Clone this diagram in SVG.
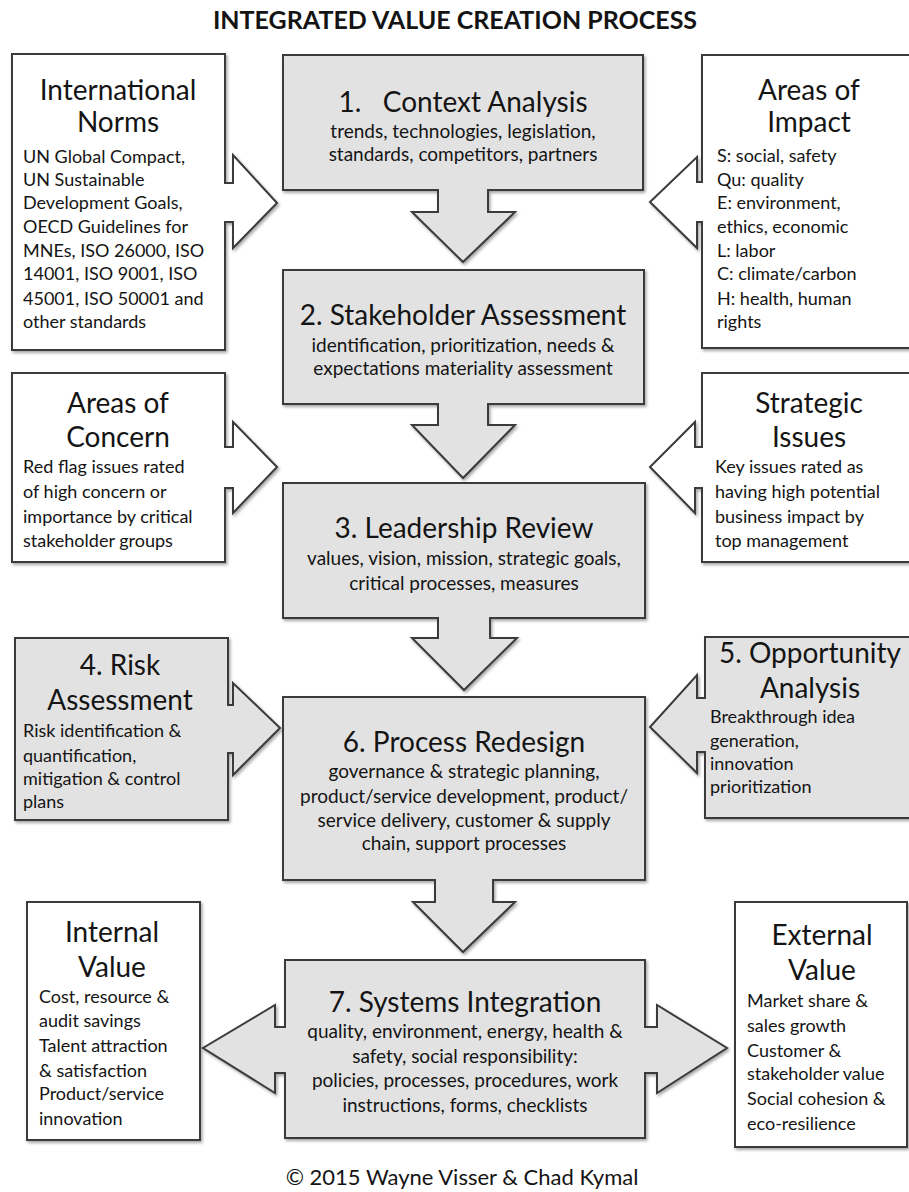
<svg xmlns="http://www.w3.org/2000/svg" width="909" height="1192" viewBox="0 0 909 1192">
<defs>
<filter id="sh" x="-10%" y="-10%" width="130%" height="130%">
<feDropShadow dx="1.5" dy="2" stdDeviation="1.5" flood-color="#000" flood-opacity="0.35"/>
</filter>
<style>
.g{fill:#e2e2e2;stroke:#3a3a3a;stroke-width:2;filter:url(#sh)}
.w{fill:#ffffff;stroke:#3a3a3a;stroke-width:2;filter:url(#sh)}
text{font-family:Lato,"Liberation Sans",sans-serif;fill:#141414}
.h{font-size:28px;text-anchor:middle}
.s{font-size:19px;text-anchor:middle}
.b{font-size:18px}
.t{font-size:25px;font-weight:bold;text-anchor:middle}
</style>
</defs>
<rect width="909" height="1192" fill="#ffffff"/>
<text class="t" x="455" y="29">INTEGRATED VALUE CREATION PROCESS</text>

<g id="connectors"><!-- arrows are drawn as part of each node outline --></g>

<g id="n1">
<path class="g" d="M283,55 H643 V190 H488 V212 H515 L463,262 L412,212 H438 V190 H283 Z"/>
<text class="h" x="463" y="112" xml:space="preserve">1.   Context Analysis</text>
<text class="s" x="463" y="138">trends, technologies, legislation,</text>
<text class="s" x="463" y="161">standards, competitors, partners</text>
</g>

<g id="n2">
<path class="g" d="M283,270 H644 V404 H488 V425 H515 L463,478 L412,425 H438 V404 H283 Z"/>
<text class="h" x="463" y="325">2. Stakeholder Assessment</text>
<text class="s" x="463" y="352">identification, prioritization, needs &amp;</text>
<text class="s" x="463" y="375">expectations materiality assessment</text>
</g>

<g id="n3">
<path class="g" d="M283,483 H645 V618 H490 V638 H517 L464,690 L412,638 H438 V618 H283 Z"/>
<text class="h" x="464" y="538">3. Leadership Review</text>
<text class="s" x="464" y="565">values, vision, mission, strategic goals,</text>
<text class="s" x="464" y="590">critical processes, measures</text>
</g>

<g id="n6">
<path class="g" d="M283,697 H645 V880 H493 V902 H515 L463,952 L413,902 H435 V880 H283 Z"/>
<text class="h" x="464" y="752">6. Process Redesign</text>
<text class="s" x="464" y="778">governance &amp; strategic planning,</text>
<text class="s" x="464" y="803">product/service development, product/</text>
<text class="s" x="464" y="827">service delivery, customer &amp; supply</text>
<text class="s" x="464" y="850">chain, support processes</text>
</g>

<g id="n7">
<path class="g" d="M285,960 H645 V1027 H657 V1005 L727,1048 L657,1093 V1073 H645 V1138 H285 V1073 H275 V1093 L203,1048 L275,1005 V1027 H285 Z"/>
<text class="h" x="465" y="1012">7. Systems Integration</text>
<text class="s" x="465" y="1038">quality, environment, energy, health &amp;</text>
<text class="s" x="465" y="1063">safety, social responsibility:</text>
<text class="s" x="465" y="1087">policies, processes, procedures, work</text>
<text class="s" x="465" y="1112">instructions, forms, checklists</text>
</g>

<g id="intl-norms">
<path class="w" d="M12,54 H225 V183 H233 V155 L277,203 L233,248 V222 H225 V350 H12 Z"/>
<text class="h" x="118" y="100">International</text>
<text class="h" x="118" y="132">Norms</text>
<text class="b" x="23" y="163">UN Global Compact,</text>
<text class="b" x="23" y="186">UN Sustainable</text>
<text class="b" x="23" y="209">Development Goals,</text>
<text class="b" x="23" y="233">OECD Guidelines for</text>
<text class="b" x="23" y="257">MNEs, ISO 26000, ISO</text>
<text class="b" x="23" y="280">14001, ISO 9001, ISO</text>
<text class="b" x="23" y="305">45001, ISO 50001 and</text>
<text class="b" x="23" y="328">other standards</text>
</g>

<g id="areas-impact">
<path class="w" d="M702,55 H916 V348 H702 V222 H697 V248 L650,202 L697,157 V182 H702 Z"/>
<text class="h" x="809" y="100">Areas of</text>
<text class="h" x="809" y="132">Impact</text>
<text class="b" x="717" y="162">S: social, safety</text>
<text class="b" x="717" y="186">Qu: quality</text>
<text class="b" x="717" y="209">E: environment,</text>
<text class="b" x="717" y="233">ethics, economic</text>
<text class="b" x="717" y="257">L: labor</text>
<text class="b" x="717" y="280">C: climate/carbon</text>
<text class="b" x="717" y="305">H: health, human</text>
<text class="b" x="717" y="328">rights</text>
</g>

<g id="areas-concern">
<path class="w" d="M12,373 H225 V447 H233 V422 L277,467 L233,513 V488 H225 V562 H12 Z"/>
<text class="h" x="118" y="413">Areas of</text>
<text class="h" x="118" y="447">Concern</text>
<text class="b" x="23" y="473">Red flag issues rated</text>
<text class="b" x="23" y="498">of high concern or</text>
<text class="b" x="23" y="523">importance by critical</text>
<text class="b" x="23" y="547">stakeholder groups</text>
</g>

<g id="strategic-issues">
<path class="w" d="M702,373 H916 V562 H702 V488 H695 V513 L650,467 L695,422 V447 H702 Z"/>
<text class="h" x="809" y="413">Strategic</text>
<text class="h" x="809" y="447">Issues</text>
<text class="b" x="715" y="473">Key issues rated as</text>
<text class="b" x="715" y="498">having high potential</text>
<text class="b" x="715" y="523">business impact by</text>
<text class="b" x="715" y="547">top management</text>
</g>

<g id="n4">
<path class="g" d="M15,638 H228 V705 H233 V683 L280,728 L233,775 V753 H228 V820 H15 Z"/>
<text class="h" x="120" y="675">4. Risk</text>
<text class="h" x="120" y="710">Assessment</text>
<text class="b" x="23" y="737">Risk identification &amp;</text>
<text class="b" x="23" y="762">quantification,</text>
<text class="b" x="23" y="785">mitigation &amp; control</text>
<text class="b" x="23" y="808">plans</text>
</g>

<g id="n5">
<path class="g" d="M705,637 H916 V818 H705 V752 H697 V773 L650,727 L697,675 V698 H705 Z"/>
<text class="h" x="810" y="663">5. Opportunity</text>
<text class="h" x="810" y="698">Analysis</text>
<text class="b" x="710" y="723">Breakthrough idea</text>
<text class="b" x="710" y="747">generation,</text>
<text class="b" x="710" y="770">innovation</text>
<text class="b" x="710" y="793">prioritization</text>
</g>

<g id="internal-value">
<rect class="w" x="27" y="902" width="173" height="238"/>
<text class="h" x="112" y="942">Internal</text>
<text class="h" x="112" y="977">Value</text>
<text class="b" x="39" y="1003">Cost, resource &amp;</text>
<text class="b" x="39" y="1027">audit savings</text>
<text class="b" x="39" y="1052">Talent attraction</text>
<text class="b" x="39" y="1077">&amp; satisfaction</text>
<text class="b" x="39" y="1100">Product/service</text>
<text class="b" x="39" y="1125">innovation</text>
</g>

<g id="external-value">
<rect class="w" x="735" y="902" width="172" height="245"/>
<text class="h" x="822" y="945">External</text>
<text class="h" x="822" y="980">Value</text>
<text class="b" x="747" y="1007">Market share &amp;</text>
<text class="b" x="747" y="1032">sales growth</text>
<text class="b" x="747" y="1057">Customer &amp;</text>
<text class="b" x="747" y="1080">stakeholder value</text>
<text class="b" x="747" y="1105">Social cohesion &amp;</text>
<text class="b" x="747" y="1130">eco-resilience</text>
</g>

<text class="s" x="462" y="1185" style="font-size:22px">© 2015 Wayne Visser &amp; Chad Kymal</text>
</svg>
